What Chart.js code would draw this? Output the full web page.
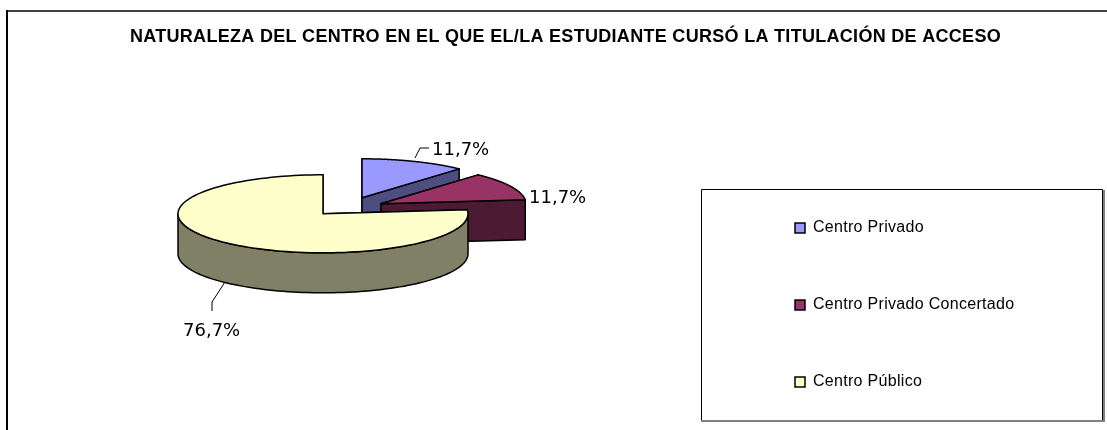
<!DOCTYPE html>
<html><head><meta charset="utf-8">
<style>html,body{margin:0;padding:0;background:#fff}#w{position:relative;width:1107px;height:430px}</style>
<script src="https://cdn.jsdelivr.net/npm/chart.js@4"></script>
</head><body><div id="w"><canvas id="c" width="1107" height="430"></canvas></div>
<script>
const titleText = 'NATURALEZA DEL CENTRO EN EL QUE EL/LA ESTUDIANTE CURSÓ LA TITULACIÓN DE ACCESO';
const categories = ['Centro Privado', 'Centro Privado Concertado', 'Centro Público'];
const shares = [11.7, 11.7, 76.7];
const topColors = ['#9999FF', '#993366', '#FFFFCC'];
const sideColors = ['#4D4D80', '#4D1A33', '#808066'];
// view settings for the tilted pie
const tilt = 0.269, depth = 40, radius = 145;
const explode = [[39, -16], [58, -10], [0, 0]];
const labelPos = [[432, 150], [529, 198], [183, 331]];
const leaders = [[[415,158],[420,148],[429,148]], null, [[225,282],[212,302],[212,311]]];

const pie3d = {
  id: 'pie3d',
  afterLayout(chart) {
    const t = chart.titleBlock; t.left = 0; t.right = 1131;
    const l = chart.legend;
    l.left = 734; l.right = 1100; l.top = 159; l.bottom = 700;
  },
  beforeDraw(chart) {
    const c = chart.ctx; c.save();
    c.fillStyle = '#fff'; c.fillRect(0, 0, 1107, 430);
    c.strokeStyle = '#404040'; c.lineWidth = 2;
    c.beginPath(); c.moveTo(1107, 11); c.lineTo(6, 11); c.stroke();
    c.strokeStyle = '#000';
    c.beginPath(); c.moveTo(7, 430); c.lineTo(7, 10); c.stroke();
    c.lineWidth = 1;
    c.beginPath(); c.moveTo(701.5, 420); c.lineTo(701.5, 189.5); c.lineTo(1102.5, 189.5); c.lineTo(1102.5, 421); c.stroke();
    c.strokeStyle = '#808080'; c.lineWidth = 2;
    c.beginPath(); c.moveTo(701, 421); c.lineTo(1104, 421); c.stroke();
    c.beginPath(); c.moveTo(1104, 190); c.lineTo(1104, 422); c.stroke();
    c.restore();
    c.letterSpacing = '0.3px';
  },
  beforeDatasetsDraw(chart) {
    const c = chart.ctx, arcs = chart.getDatasetMeta(0).data;
    c.save(); c.lineJoin = 'round'; c.strokeStyle = '#000'; c.lineWidth = 1.5;
    arcs.forEach((a, i) => {
      const cx = a.x + explode[i][0], cy = a.y + explode[i][1], R = a.outerRadius;
      const px = (t, d) => [cx + R * Math.cos(t), cy + R * tilt * Math.sin(t) + d];
      const s = a.startAngle, e = a.endAngle;
      const wall = t => {
        const p = px(t, 0), q = px(t, depth);
        c.beginPath(); c.moveTo(cx, cy); c.lineTo(p[0], p[1]); c.lineTo(q[0], q[1]); c.lineTo(cx, cy + depth); c.closePath();
        c.fillStyle = sideColors[i]; c.fill(); c.stroke();
      };
      wall(s); wall(e);
      // front-facing rim
      const lo = Math.max(s, 0), hi = Math.min(e, Math.PI);
      if (hi > lo) {
        c.beginPath();
        for (let k = 0; k <= 90; k++) { const p = px(lo + (hi - lo) * k / 90, 0); k ? c.lineTo(p[0], p[1]) : c.moveTo(p[0], p[1]); }
        for (let k = 90; k >= 0; k--) { const p = px(lo + (hi - lo) * k / 90, depth); c.lineTo(p[0], p[1]); }
        c.closePath(); c.fillStyle = sideColors[i]; c.fill(); c.stroke();
      }
      c.beginPath(); c.moveTo(cx, cy);
      for (let k = 0; k <= 120; k++) { const p = px(s + (e - s) * k / 120, 0); c.lineTo(p[0], p[1]); }
      c.closePath(); c.fillStyle = topColors[i]; c.fill(); c.stroke();
    });
    c.restore();
    return false;
  },
  afterDraw(chart) {
    const c = chart.ctx; c.save();
    c.letterSpacing = '0px';
    c.strokeStyle = '#000'; c.lineWidth = 1;
    leaders.forEach(L => { if (!L) return; c.beginPath(); L.forEach((p, k) => k ? c.lineTo(p[0], p[1]) : c.moveTo(p[0], p[1])); c.stroke(); });
    c.fillStyle = '#000'; c.font = '18px "DejaVu Sans"'; c.textBaseline = 'middle';
    shares.forEach((v, i) => c.fillText(v.toFixed(1).replace('.', ',') + '%', labelPos[i][0], labelPos[i][1]));
    c.restore();
  }
};

new Chart(document.getElementById('c'), {
  type: 'pie',
  data: { labels: categories, datasets: [{ data: shares, backgroundColor: topColors, borderColor: '#000', borderWidth: 1.5 }] },
  plugins: [pie3d],
  options: {
    responsive: false, animation: false, radius: radius,
    layout: { padding: { left: 0, right: 461, top: 0, bottom: 50 } },
    plugins: {
      tooltip: { enabled: false },
      title: { display: true, text: titleText, color: '#000', font: { family: '"Liberation Sans"', size: 18, weight: 'bold' }, padding: { top: 26, bottom: 0 } },
      legend: { position: 'chartArea', align: 'start', labels: { color: '#000', boxWidth: 10, boxHeight: 10, padding: 61, font: { family: '"Liberation Sans"', size: 16 } } }
    }
  }
});
</script></body></html>
